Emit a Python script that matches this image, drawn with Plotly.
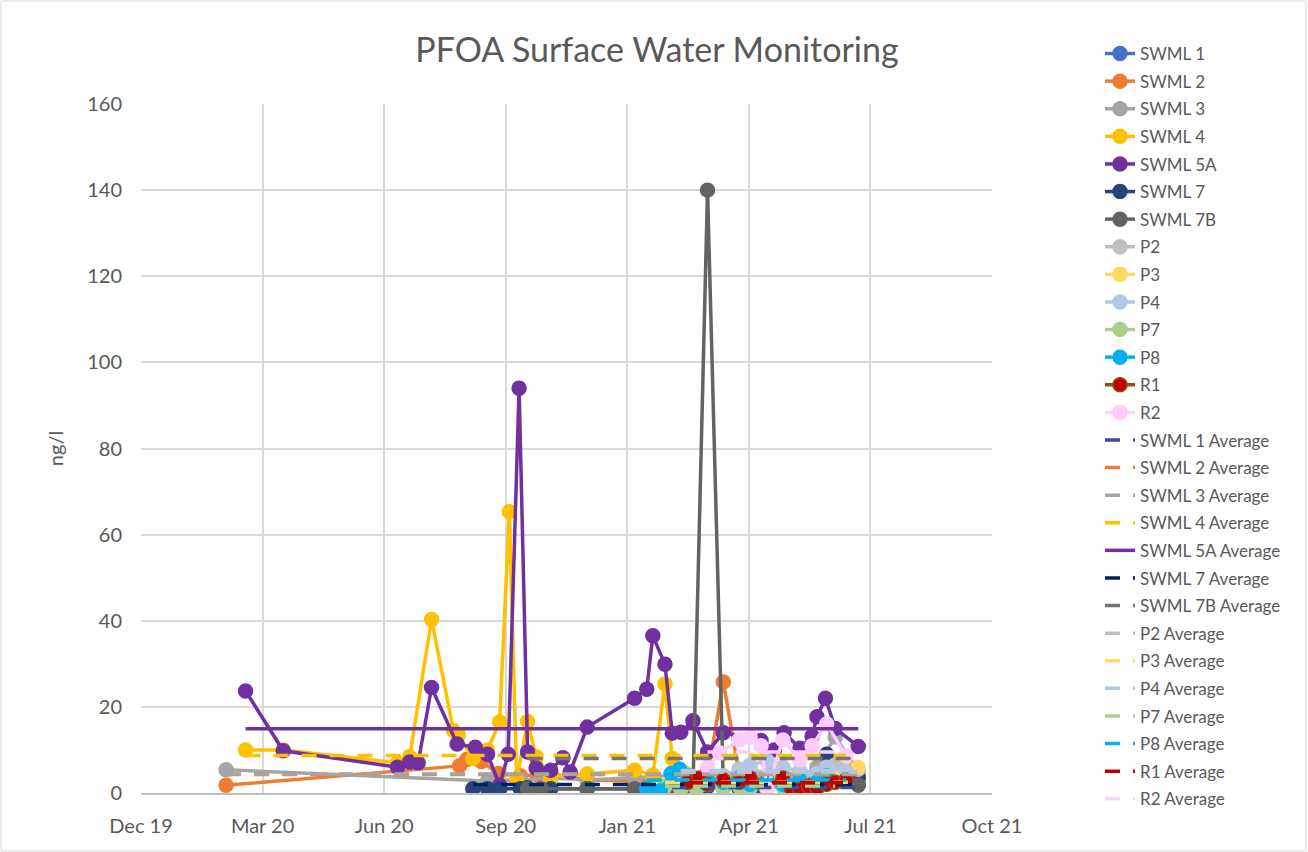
import plotly.graph_objects as go

# ---------------- data ----------------
series_names = ["SWML 1", "SWML 2", "SWML 3", "SWML 4", "SWML 5A", "SWML 7", "SWML 7B",
                "P2", "P3", "P4", "P7", "P8", "R1", "R2"]

swml1_dates = ["2021-02-10", "2021-03-11", "2021-04-06", "2021-05-12", "2021-06-09", "2021-07-13"]
swml1_vals = [1.0, 1.5, 1.0, 1.5, 1.0, 2.0]

swml2_dates = ["2020-02-09", "2020-08-19", "2020-08-25", "2020-09-06", "2020-09-20", "2020-10-08",
               "2020-10-22", "2020-11-02", "2020-12-02", "2021-01-10", "2021-02-10", "2021-02-27",
               "2021-03-11", "2021-03-24", "2021-04-06", "2021-04-24", "2021-05-12", "2021-06-05",
               "2021-06-24", "2021-07-13"]
swml2_vals = [1.8, 6.3, 7.8, 7.3, 4.5, 4.0, 4.2, 4.5, 3.0, 2.8, 3.0, 3.5, 4.0, 25.8, 4.5, 2.5,
              3.0, 2.5, 3.0, 4.0]

swml3_dates = ["2020-02-09", "2020-09-11", "2020-10-08", "2020-11-02", "2020-12-02", "2021-01-10",
               "2021-02-10", "2021-03-11", "2021-04-06", "2021-05-05", "2021-05-26", "2021-06-09",
               "2021-06-24", "2021-07-13"]
swml3_vals = [5.4, 2.8, 3.0, 3.5, 3.0, 3.5, 4.0, 5.0, 4.5, 5.0, 3.5, 6.0, 13.0, 5.2]

swml4_dates = ["2020-02-25", "2020-03-27", "2020-06-29", "2020-07-09", "2020-07-27", "2020-08-14",
               "2020-08-18", "2020-08-30", "2020-09-11", "2020-09-21", "2020-09-29", "2020-10-05",
               "2020-10-14", "2020-10-21", "2020-11-02", "2020-12-02", "2021-01-10", "2021-01-25",
               "2021-02-04", "2021-02-10", "2021-03-11", "2021-04-06", "2021-05-12", "2021-06-09",
               "2021-07-03"]
swml4_vals = [10.0, 10.0, 7.0, 8.4, 40.3, 14.5, 13.5, 8.0, 10.0, 16.5, 65.3, 3.0, 16.6, 8.4, 3.8,
              4.4, 5.3, 4.2, 25.3, 8.0, 3.0, 4.0, 3.5, 4.0, 6.0]

swml5a_dates = ["2020-02-25", "2020-03-27", "2020-06-29", "2020-07-09", "2020-07-16", "2020-07-27",
                "2020-08-17", "2020-09-01", "2020-09-11", "2020-09-21", "2020-09-28", "2020-10-07",
                "2020-10-14", "2020-10-21", "2020-11-02", "2020-11-12", "2020-11-18", "2020-12-02",
                "2021-01-10", "2021-01-20", "2021-01-25", "2021-02-04", "2021-02-10", "2021-02-17",
                "2021-02-27", "2021-03-11", "2021-03-24", "2021-04-24", "2021-05-05", "2021-05-13",
                "2021-05-26", "2021-06-05", "2021-06-09", "2021-06-16", "2021-06-24", "2021-07-13"]
swml5a_vals = [23.7, 9.8, 6.0, 7.2, 7.0, 24.5, 11.4, 10.6, 9.0, 1.8, 9.0, 94.0, 9.5, 5.8, 5.3, 8.2,
               4.9, 15.3, 22.0, 24.1, 36.5, 29.9, 13.9, 14.1, 16.8, 9.5, 14.0, 12.2, 10.0, 14.0,
               10.4, 13.2, 17.7, 22.0, 15.0, 10.8]

swml7_dates = ["2020-08-30", "2020-09-11", "2020-09-21", "2020-10-08", "2020-10-14", "2020-11-02",
               "2020-12-02", "2021-01-20", "2021-02-04", "2021-02-17", "2021-03-11", "2021-04-06",
               "2021-04-24", "2021-05-12", "2021-06-09", "2021-06-17", "2021-07-13"]
swml7_vals = [1.0, 1.0, 1.0, 1.0, 1.2, 1.0, 1.0, 1.0, 1.0, 1.0, 1.5, 1.2, 1.5, 2.0, 3.0, 9.0, 3.5]

swml7b_dates = ["2020-10-14", "2020-10-25", "2020-12-02", "2021-01-10", "2021-02-10", "2021-02-27",
                "2021-03-11", "2021-03-24", "2021-04-24", "2021-05-12", "2021-06-05", "2021-06-24",
                "2021-07-13"]
swml7b_vals = [1.0, 1.0, 1.0, 1.0, 1.0, 1.0, 140.0, 2.0, 2.0, 2.5, 3.0, 4.0, 1.8]

p2_dates = ["2021-02-17", "2021-03-11", "2021-03-24", "2021-04-06", "2021-04-15", "2021-04-29",
            "2021-05-12", "2021-05-26", "2021-06-09", "2021-06-24", "2021-07-13"]
p2_vals = [4.0, 5.0, 4.0, 5.5, 6.0, 4.0, 5.0, 3.5, 4.5, 6.5, 5.5]

p3_dates = ["2021-02-04", "2021-02-17", "2021-03-02", "2021-03-11", "2021-03-24", "2021-04-06",
            "2021-04-15", "2021-04-29", "2021-05-12", "2021-05-26", "2021-06-09", "2021-06-24",
            "2021-07-13"]
p3_vals = [2.0, 1.5, 2.5, 2.0, 3.0, 2.0, 1.5, 3.0, 2.0, 1.5, 2.5, 3.5, 6.0]

p4_dates = ["2021-02-17", "2021-03-11", "2021-03-24", "2021-04-06", "2021-04-15", "2021-04-29",
            "2021-05-12", "2021-05-26", "2021-06-09", "2021-06-17", "2021-07-03"]
p4_vals = [3.0, 4.0, 3.5, 5.0, 6.5, 7.5, 6.0, 5.0, 4.5, 6.0, 5.0]

p7_dates = ["2021-02-04", "2021-02-17", "2021-03-02", "2021-03-11", "2021-03-24", "2021-04-06",
            "2021-04-15", "2021-04-29", "2021-05-12", "2021-05-26", "2021-06-09", "2021-06-24"]
p7_vals = [1.5, 1.0, 1.0, 2.0, 1.0, 1.5, 1.2, 2.0, 1.5, 1.8, 2.0, 2.5]

p8_dates = ["2021-01-20", "2021-01-31", "2021-02-09", "2021-02-16", "2021-02-23", "2021-03-11",
            "2021-03-24", "2021-04-06", "2021-04-15", "2021-04-29", "2021-05-12", "2021-05-26",
            "2021-06-09", "2021-06-17", "2021-07-03"]
p8_vals = [1.0, 0.5, 4.5, 5.5, 4.0, 3.0, 2.5, 3.5, 2.0, 3.0, 2.0, 3.0, 2.5, 4.0, 3.0]

r1_dates = ["2021-02-23", "2021-03-04", "2021-03-11", "2021-03-24", "2021-04-06", "2021-04-15",
            "2021-04-29", "2021-05-12", "2021-05-19", "2021-05-26", "2021-06-02", "2021-06-09",
            "2021-06-17", "2021-06-24", "2021-07-03"]
r1_vals = [2.5, 3.5, 2.0, 3.0, 2.5, 3.5, 2.0, 3.5, 1.0, 0.8, 1.5, 1.2, 2.0, 2.5, 3.0]

r2_dates = ["2021-03-11", "2021-03-21", "2021-04-06", "2021-04-15", "2021-04-24", "2021-04-29",
            "2021-05-12", "2021-05-26", "2021-06-05", "2021-06-17", "2021-07-03"]
r2_vals = [6.0, 9.3, 12.3, 13.0, 11.0, 1.0, 12.3, 7.7, 11.0, 16.0, 8.6]

average_vals = [1.3, 4.3, 4.4, 8.7, 14.9, 2.0, 8.0, 4.8, 2.5, 5.2, 1.6, 3.0, 2.4, 9.5]

tick_dates = ["2019-12-01", "2020-03-10", "2020-06-18", "2020-09-26", "2021-01-04",
              "2021-04-14", "2021-07-23", "2021-10-31"]
tick_labels = ["Dec 19", "Mar 20", "Jun 20", "Sep 20", "Jan 21", "Apr 21", "Jul 21", "Oct 21"]

all_dates = [swml1_dates, swml2_dates, swml3_dates, swml4_dates, swml5a_dates, swml7_dates,
             swml7b_dates, p2_dates, p3_dates, p4_dates, p7_dates, p8_dates, r1_dates, r2_dates]
all_vals = [swml1_vals, swml2_vals, swml3_vals, swml4_vals, swml5a_vals, swml7_vals,
            swml7b_vals, p2_vals, p3_vals, p4_vals, p7_vals, p8_vals, r1_vals, r2_vals]

# ---------------- styles ----------------
line_colors = ["#4472C4", "#ED7D31", "#A5A5A5", "#FFC000", "#7030A0", "#264478", "#636363",
               "#BFBFBF", "#FFD966", "#B4C7E7", "#A9D18E", "#00B0F0", "#9E480E", "#FFCCFF"]
marker_fills = ["#4472C4", "#ED7D31", "#A5A5A5", "#FFC000", "#7030A0", "#264478", "#636363",
                "#BFBFBF", "#FFD966", "#B4C7E7", "#A9D18E", "#00B0F0", "#C00000", "#FFCCFF"]
avg_colors = ["#2F5597", "#ED7D31", "#A5A5A5", "#FFC000", "#7030A0", "#002060", "#757575",
              "#BFBFBF", "#FFD966", "#B4C7E7", "#A9D18E", "#00B0F0", "#C00000", "#FFCCFF"]

FONT = "Lato, 'Open Sans', sans-serif"
TXT = "#595959"

fig = go.Figure()

for i, name in enumerate(series_names):
    fig.add_trace(go.Scatter(
        x=all_dates[i], y=all_vals[i], name=name, mode="lines+markers",
        legendgroup=name,
        line=dict(color=line_colors[i], width=3.5),
        marker=dict(size=14, color=marker_fills[i],
                    line=dict(color=line_colors[i], width=1.5)),
    ))

for i, name in enumerate(series_names):
    d = all_dates[i]
    fig.add_trace(go.Scatter(
        x=[d[0], d[-1]], y=[average_vals[i], average_vals[i]],
        name=name + " Average", mode="lines", legendgroup=name + " Average",
        line=dict(color=avg_colors[i], width=3.5,
                  dash="solid" if name == "SWML 5A" else "15px,13px"),
    ))

W, H = 1308, 852
L, R, T, B = 141, 316, 104, 59
pw, ph = W - L - R, H - T - B

fig.update_layout(
    width=W, height=H,
    margin=dict(l=L, r=R, t=T, b=B),
    paper_bgcolor="white", plot_bgcolor="white",
    font=dict(family=FONT, color=TXT),
    title=dict(text="PFOA Surface Water Monitoring", x=657 / W,
               xanchor="center", y=1 - 50 / H, yanchor="middle",
               font=dict(size=34, color=TXT, family=FONT)),
    showlegend=True,
    legend=dict(x=(1100 - L) / pw, xanchor="left", y=1 + (T - 36) / ph, yanchor="top",
                font=dict(size=17, color=TXT, family=FONT),
                traceorder="grouped", tracegroupgap=2.5, maxheight=840,
                bgcolor="rgba(0,0,0,0)", itemwidth=30),
    xaxis=dict(type="date", range=["2019-12-01", "2021-10-31"],
               tickmode="array", tickvals=tick_dates, ticktext=tick_labels,
               showgrid=True, gridcolor="#D9D9D9", gridwidth=1.5,
               showline=True, linecolor="#BFBFBF", linewidth=1.5,
               ticks="outside", ticklen=14, tickcolor="rgba(0,0,0,0)",
               tickfont=dict(size=20, color=TXT, family=FONT), zeroline=False),
    yaxis=dict(range=[0, 160], dtick=20, tick0=0,
               showgrid=True, gridcolor="#D9D9D9", gridwidth=1.5,
               showline=False, zeroline=False,
               ticks="outside", ticklen=14, tickcolor="rgba(0,0,0,0)",
               tickfont=dict(size=20, color=TXT, family=FONT),
               title=dict(text="ng/l", font=dict(size=20, color=TXT, family=FONT), standoff=18)),
)

# chart area border
fig.add_shape(type="rect", xref="paper", yref="paper",
              x0=(1 - L) / pw, x1=(W - 2 - L) / pw, y0=-(B - 1) / ph, y1=1 + (T - 1) / ph,
              line=dict(color="#D9D9D9", width=1), fillcolor="rgba(0,0,0,0)", layer="below")

fig.write_html("out.html", config={"displayModeBar": False},
               post_script="document.body.style.margin='0';")
